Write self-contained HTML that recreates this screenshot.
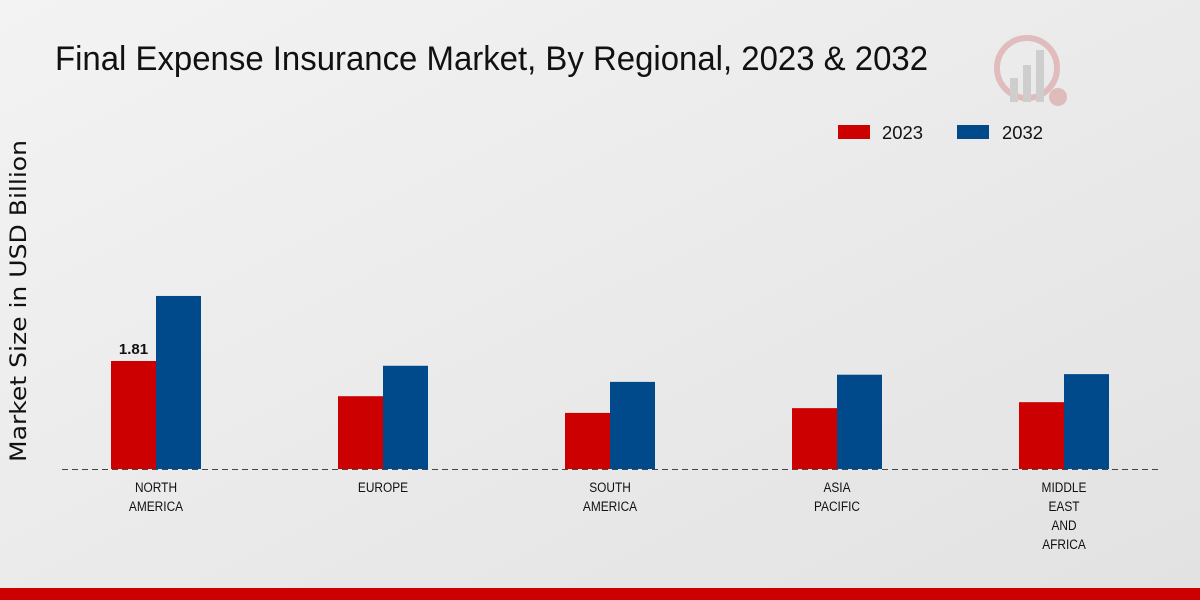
<!DOCTYPE html>
<html><head><meta charset="utf-8"><style>
body{margin:0;width:1200px;height:600px;overflow:hidden;font-family:"Liberation Sans",sans-serif;}
svg{display:block}
</style></head><body>
<svg width="1200" height="600">
<defs><linearGradient id="bg" x1="0" y1="0" x2="1" y2="1"><stop offset="0" stop-color="#f3f3f3"/><stop offset="1" stop-color="#e2e2e2"/></linearGradient></defs>
<rect width="1200" height="600" fill="url(#bg)"/>
<text x="55" y="70" font-size="34" fill="#111" textLength="873" lengthAdjust="spacingAndGlyphs">Final Expense Insurance Market, By Regional, 2023 &amp; 2032</text>
<g opacity="0.35">
<circle cx="1027" cy="68" r="30" fill="none" stroke="#c66" stroke-width="6"/>
<rect x="1010" y="78" width="8" height="24" fill="#999"/><rect x="1023" y="65" width="8" height="37" fill="#999"/><rect x="1036" y="50" width="8" height="52" fill="#999"/>
<circle cx="1058" cy="97" r="9" fill="#c66"/>
</g>
<text transform="translate(26,301) rotate(-90)" text-anchor="middle" font-family="DejaVu Sans, sans-serif" font-size="22" fill="#111" textLength="322" lengthAdjust="spacingAndGlyphs">Market Size in USD Billion</text>
<g>
<rect x="838" y="125" width="32" height="14" fill="#cc0000"/>
<text x="882" y="139" font-size="18" fill="#111" textLength="41" lengthAdjust="spacingAndGlyphs">2023</text>
<rect x="957" y="125" width="32" height="14" fill="#004a8c"/>
<text x="1002" y="139" font-size="18" fill="#111" textLength="41" lengthAdjust="spacingAndGlyphs">2032</text>
</g>
<g id="plot"></g>
<line x1="62" y1="469.5" x2="1160" y2="469.5" stroke="#444" stroke-dasharray="6,4"/>
<rect x="0" y="588" width="1200" height="12" fill="#cc0000"/>
</svg>
<script>
const categories=[["NORTH","AMERICA"],["EUROPE"],["SOUTH","AMERICA"],["ASIA","PACIFIC"],["MIDDLE","EAST","AND","AFRICA"]];
const values2023=[1.81,1.22,0.94,1.02,1.12];
const values2032=[2.90,1.73,1.46,1.58,1.59];
const labelled2023=[0];
const ns="http://www.w3.org/2000/svg";
const g=document.getElementById('plot');
const baseY=469, pxPerUnit=59.67, x0=156, step=227, bw=45;
const y=v=>baseY-v*pxPerUnit;
const xc=i=>x0+i*step;
function mk(t,a){const e=document.createElementNS(ns,t);for(const k in a)e.setAttribute(k,a[k]);g.appendChild(e);return e;}
categories.forEach((c,i)=>{
 const r=mk('rect',{x:xc(i)-bw,y:y(values2023[i]),width:bw,height:baseY-y(values2023[i]),fill:'#cc0000'});
 
 
 const b=mk('rect',{x:xc(i),y:y(values2032[i]),width:bw,height:baseY-y(values2032[i]),fill:'#004a8c'});
 
 
 c.forEach((line,j)=>{
  const t=mk('text',{transform:'translate('+xc(i)+','+(492+j*19)+') scale(0.85,1)','text-anchor':'middle','font-size':14,fill:'#111'});
  t.textContent=line;
  
  
 });
});
labelled2023.forEach(i=>{
 const t=mk('text',{x:xc(i)-bw/2,y:y(values2023[i])-7,'text-anchor':'middle','font-size':15,'font-weight':'bold',fill:'#111'});
 t.textContent=values2023[i].toFixed(2);
 
 
});
</script>
</body></html>
